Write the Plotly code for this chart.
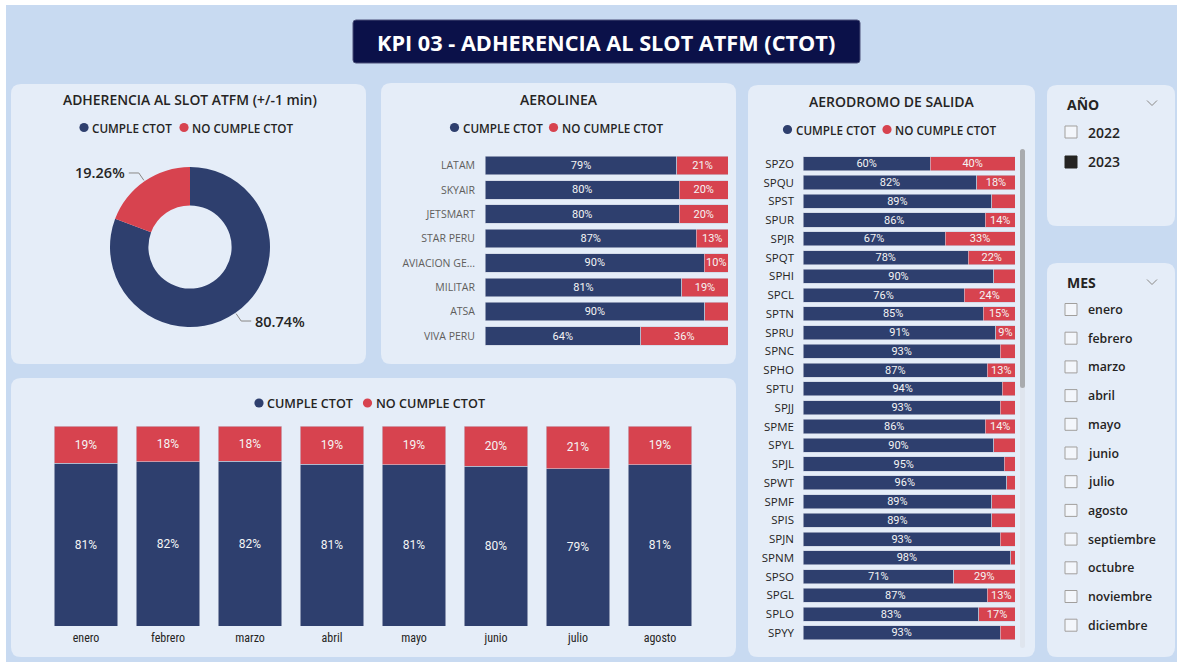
import math
import plotly.graph_objects as go

# ---------------- data ----------------
donut_labels = ["CUMPLE CTOT", "NO CUMPLE CTOT"]
donut_values = [80.74, 19.26]

airlines = ["LATAM", "SKYAIR", "JETSMART", "STAR PERU", "AVIACION GE...", "MILITAR", "ATSA", "VIVA PERU"]
airline_cumple = [79, 80, 80, 87, 90.3, 81, 90.4, 64]
airline_no = [21, 20, 20, 13, 9.7, 19, 9.6, 36]
airline_no_hidden = ["ATSA"]

aerodromes = ["SPZO", "SPQU", "SPST", "SPUR", "SPJR", "SPQT", "SPHI", "SPCL", "SPTN", "SPRU", "SPNC",
              "SPHO", "SPTU", "SPJJ", "SPME", "SPYL", "SPJL", "SPWT", "SPMF", "SPIS", "SPJN", "SPNM",
              "SPSO", "SPGL", "SPLO", "SPYY"]
aerodrome_cumple = [60, 82, 89, 86, 67, 78, 90, 76, 85, 91, 93, 87, 94, 93, 86, 90, 95, 96, 89, 89, 93, 98,
                    71, 87, 83, 93]
aerodrome_no = [40, 18, 11, 14, 33, 22, 10, 24, 15, 9, 7, 13, 6, 7, 14, 10, 5, 4, 11, 11, 7, 2,
                29, 13, 17, 7]
aerodrome_no_hidden = ["SPST", "SPHI", "SPNC", "SPTU", "SPJJ", "SPYL", "SPJL", "SPWT", "SPMF", "SPIS",
                       "SPJN", "SPNM", "SPYY"]

months = ["enero", "febrero", "marzo", "abril", "mayo", "junio", "julio", "agosto"]
month_cumple = [81.3, 82.2, 82.4, 80.8, 80.6, 80.0, 78.7, 80.6]
month_no = [18.7, 17.8, 17.6, 19.2, 19.4, 20.0, 21.3, 19.4]

years = ["2022", "2023"]
selected_years = ["2023"]
slicer_months = ["enero", "febrero", "marzo", "abril", "mayo", "junio", "julio", "agosto",
                 "septiembre", "octubre", "noviembre", "diciembre"]

title_text = "KPI 03 - ADHERENCIA AL SLOT ATFM (CTOT)"
series_names = ["CUMPLE CTOT", "NO CUMPLE CTOT"]

# ---------------- style ----------------
W, H = 1177, 662
NAVY = "#2e3f6e"
RED = "#d7434f"
BG = "#c8daf1"
PANEL = "#e5edf8"
TXT = "#252423"
FONT = "Segoe UI, Open Sans, sans-serif"
NUMFONT = "Roboto, sans-serif"
CONDFONT = "Roboto Condensed, Liberation Sans Narrow, Roboto, sans-serif"


def fx(x):
    return x / W


def fy(y):
    return 1 - y / H


def rrect(x0, y0, x1, y1, r):
    pts = [
        f"M {fx(x0 + r)} {fy(y0)}",
        f"L {fx(x1 - r)} {fy(y0)}",
        f"Q {fx(x1)} {fy(y0)} {fx(x1)} {fy(y0 + r)}",
        f"L {fx(x1)} {fy(y1 - r)}",
        f"Q {fx(x1)} {fy(y1)} {fx(x1 - r)} {fy(y1)}",
        f"L {fx(x0 + r)} {fy(y1)}",
        f"Q {fx(x0)} {fy(y1)} {fx(x0)} {fy(y1 - r)}",
        f"L {fx(x0)} {fy(y0 + r)}",
        f"Q {fx(x0)} {fy(y0)} {fx(x0 + r)} {fy(y0)}",
        "Z",
    ]
    return " ".join(pts)


def lbl(vals, names=None, hidden=()):
    out = []
    for i, v in enumerate(vals):
        if names is not None and names[i] in hidden:
            out.append("")
        else:
            out.append(f"{round(v)}%")
    return out


fig = go.Figure()

# ---------------- donut ----------------
pie_cx, pie_cy, pie_r = 190, 247, 80
fig.add_trace(go.Pie(
    labels=donut_labels, values=donut_values, hole=0.52, sort=False, direction="clockwise",
    rotation=0, marker=dict(colors=[NAVY, RED], line=dict(width=0)), textinfo="none",
    showlegend=False, hoverinfo="label+percent",
    domain=dict(x=[fx(pie_cx - pie_r), fx(pie_cx + pie_r)], y=[fy(pie_cy + pie_r), fy(pie_cy - pie_r)]),
))

bar_line = dict(width=0.6, color="#c9d1e0")
bar_text_font = dict(family=NUMFONT, size=11, color="#f4f4f4")

# ---------------- airline bars ----------------
fig.add_trace(go.Bar(
    y=airlines, x=airline_cumple, orientation="h", marker=dict(color=NAVY, line=bar_line), width=0.76,
    text=lbl(airline_cumple), textposition="inside", insidetextanchor="middle", textfont=bar_text_font,
    xaxis="x", yaxis="y", showlegend=False, name=series_names[0]))
fig.add_trace(go.Bar(
    y=airlines, x=airline_no, orientation="h", marker=dict(color=RED, line=bar_line), width=0.76,
    text=lbl(airline_no, airlines, airline_no_hidden), textposition="inside", insidetextanchor="middle",
    textfont=bar_text_font, xaxis="x", yaxis="y", showlegend=False, name=series_names[1]))

# ---------------- aerodrome bars ----------------
fig.add_trace(go.Bar(
    y=aerodromes, x=aerodrome_cumple, orientation="h", marker=dict(color=NAVY, line=bar_line), width=0.75,
    text=lbl(aerodrome_cumple), textposition="inside", insidetextanchor="middle", textfont=bar_text_font,
    xaxis="x2", yaxis="y2", showlegend=False, name=series_names[0]))
fig.add_trace(go.Bar(
    y=aerodromes, x=aerodrome_no, orientation="h", marker=dict(color=RED, line=bar_line), width=0.75,
    text=lbl(aerodrome_no, aerodromes, aerodrome_no_hidden), textposition="inside", insidetextanchor="middle",
    textfont=bar_text_font, xaxis="x2", yaxis="y2", showlegend=False, name=series_names[1]))

# ---------------- month bars ----------------
month_font = dict(family=NUMFONT, size=12, color="#f4f4f4")
fig.add_trace(go.Bar(
    x=months, y=month_cumple, marker=dict(color=NAVY, line=bar_line), width=0.78,
    text=lbl(month_cumple), textposition="inside", insidetextanchor="middle", textfont=month_font,
    xaxis="x3", yaxis="y3", showlegend=False, name=series_names[0]))
fig.add_trace(go.Bar(
    x=months, y=month_no, marker=dict(color=RED, line=bar_line), width=0.78,
    text=lbl(month_no), textposition="inside", insidetextanchor="middle", textfont=month_font,
    xaxis="x3", yaxis="y3", showlegend=False, name=series_names[1]))

# ---------------- axes ----------------
a_pitch = 24.36
a_top = 165.5 - a_pitch / 2
a_bot = a_top + a_pitch * len(airlines)
d_pitch = 18.77
d_top = 163.7 - d_pitch / 2
d_bot = d_top + d_pitch * len(aerodromes)

hidden_x = dict(showgrid=False, zeroline=False, showticklabels=False, showline=False, fixedrange=True)

fig.update_layout(
    width=W, height=H, margin=dict(l=0, r=0, t=0, b=0),
    paper_bgcolor="white", plot_bgcolor="rgba(0,0,0,0)",
    barmode="stack",
    uniformtext=dict(minsize=10, mode="show"),
    font=dict(family=FONT, color=TXT),
    xaxis=dict(domain=[fx(485), fx(728)], range=[0, 100], anchor="y", **hidden_x),
    yaxis=dict(domain=[fy(a_bot), fy(a_top)], anchor="x", autorange="reversed", showgrid=False,
               zeroline=False, showline=False, ticks="", ticklabelstandoff=9,
               tickfont=dict(family=FONT, size=10.5, color="#605e5c")),
    xaxis2=dict(domain=[fx(803), fx(1015)], range=[0, 100], anchor="y2", **hidden_x),
    yaxis2=dict(domain=[fy(d_bot), fy(d_top)], anchor="x2", autorange="reversed", showgrid=False,
                zeroline=False, showline=False, ticks="", ticklabelstandoff=8,
                tickfont=dict(family=FONT, size=11.5, color=TXT)),
    xaxis3=dict(domain=[fx(45), fx(701)], anchor="y3", showgrid=False, zeroline=False, showline=False,
                ticks="", ticklabelstandoff=3,
                tickfont=dict(family=CONDFONT, size=12, color=TXT)),
    yaxis3=dict(domain=[fy(626), fy(426)], range=[0, 100], anchor="x3", showgrid=False, zeroline=False,
                showticklabels=False, showline=False),
)

shapes = []
annotations = []

# background and panels
shapes.append(dict(type="rect", xref="paper", yref="paper", x0=fx(6), x1=1, y0=0, y1=fy(5),
                   fillcolor=BG, line=dict(width=0), layer="below"))
for (x0, y0, x1, y1) in [(11, 84, 366, 364), (381, 83, 736, 364), (748, 85, 1035, 657),
                         (11, 378, 736, 657), (1047, 85, 1175, 226), (1047, 263, 1175, 657)]:
    shapes.append(dict(type="path", xref="paper", yref="paper", path=rrect(x0, y0, x1, y1, 10),
                       fillcolor=PANEL, line=dict(width=0), layer="below"))

# main title box
shapes.append(dict(type="path", xref="paper", yref="paper", path=rrect(353, 20, 860, 63, 3),
                   fillcolor="#0b1149", line=dict(width=1, color="#4a4f78"), layer="below"))


def ann(x, y, text, size=12, color=TXT, weight=600, xanchor="center", family=FONT):
    annotations.append(dict(xref="paper", yref="paper", x=fx(x), y=fy(y), text=text, showarrow=False,
                            xanchor=xanchor, yanchor="middle",
                            font=dict(family=family, size=size, color=color, weight=weight)))


ann(606, 43, title_text, size=21.7, color="white", weight=700)

ann(190, 100, "ADHERENCIA AL SLOT ATFM (+/-1 min)", size=13.9)
ann(559, 99, "AEROLINEA", size=14)
ann(892, 101, "AERODROMO DE SALIDA", size=14)


# legends: circle dot + text, for each series
def legend(y, items, size=11.7, r=4.6):
    for (cx, tx), name, col in zip(items, series_names, [NAVY, RED]):
        shapes.append(dict(type="circle", xref="paper", yref="paper",
                           x0=fx(cx - r), x1=fx(cx + r), y0=fy(y + r), y1=fy(y - r),
                           fillcolor=col, line=dict(width=0)))
        ann(tx, y, name, size=size, xanchor="left")


legend(127.5, [(84, 90), (184, 190)])
legend(127.5, [(454.5, 460.5), (553.5, 559.5)])
legend(129.5, [(787.5, 793.5), (887, 893)])
legend(403, [(259, 265), (367.5, 373.5)], size=12.6)

# donut labels with leader lines (positions from slice mid-angles)
total = sum(donut_values)
cum = 0
for v in donut_values:
    mid = (cum + v / 2) / total * 2 * math.pi
    cum += v
    sx, sy = math.sin(mid), -math.cos(mid)
    ex, ey = pie_cx + (pie_r + 1) * sx, pie_cy + (pie_r + 1) * sy
    bx, by = pie_cx + (pie_r + 10) * sx, pie_cy + (pie_r + 10) * sy
    side = 1 if sx >= 0 else -1
    hx = bx + side * 10
    shapes.append(dict(type="path", xref="paper", yref="paper",
                       path=f"M {fx(ex)} {fy(ey)} L {fx(bx)} {fy(by)} L {fx(hx)} {fy(by)}",
                       line=dict(color="#8a8886", width=1)))
    annotations.append(dict(xref="paper", yref="paper", x=fx(hx + side * 2), y=fy(by),
                            text=f"{v:.2f}%", showarrow=False,
                            xanchor="left" if side > 0 else "right", yanchor="middle",
                            font=dict(family=FONT, size=14.5, color=TXT, weight=600)))

# scrollbar
shapes.append(dict(type="path", xref="paper", yref="paper", path=rrect(1020, 149, 1025, 648, 2.5),
                   fillcolor="#dfe5ee", line=dict(width=0)))
shapes.append(dict(type="path", xref="paper", yref="paper", path=rrect(1020, 149, 1025, 388, 2.5),
                   fillcolor="#a9abae", line=dict(width=0)))


def chevron(x, y):
    shapes.append(dict(type="path", xref="paper", yref="paper",
                       path=f"M {fx(x - 5)} {fy(y - 2.5)} L {fx(x)} {fy(y + 2.5)} L {fx(x + 5)} {fy(y - 2.5)}",
                       line=dict(color="#8a8886", width=1)))


def checkbox(x, y, filled):
    shapes.append(dict(type="rect", xref="paper", yref="paper", x0=fx(x - 6), x1=fx(x + 6),
                       y0=fy(y + 6), y1=fy(y - 6),
                       fillcolor="#252423" if filled else "#f3f6fb",
                       line=dict(color="#252423" if filled else "#a19f9d", width=1)))


ann(1065, 104, "AÑO", size=14, weight=700, xanchor="left")
chevron(1152, 103)
for i, yv in enumerate(years):
    yy = 132 + i * 30
    checkbox(1071, yy, yv in selected_years)
    ann(1086, yy, yv, size=14, weight=600, xanchor="left")

ann(1065, 282, "MES", size=14, weight=700, xanchor="left")
chevron(1152, 282)
for i, m in enumerate(slicer_months):
    yy = 309.5 + i * 28.7
    checkbox(1071, yy, False)
    ann(1086, yy, m, size=12.3, weight=600, xanchor="left")

fig.update_layout(shapes=shapes, annotations=annotations)

fig.write_html("out.html", config={"displayModeBar": False},
               post_script="document.body.style.margin='0';document.body.style.overflow='hidden';")
